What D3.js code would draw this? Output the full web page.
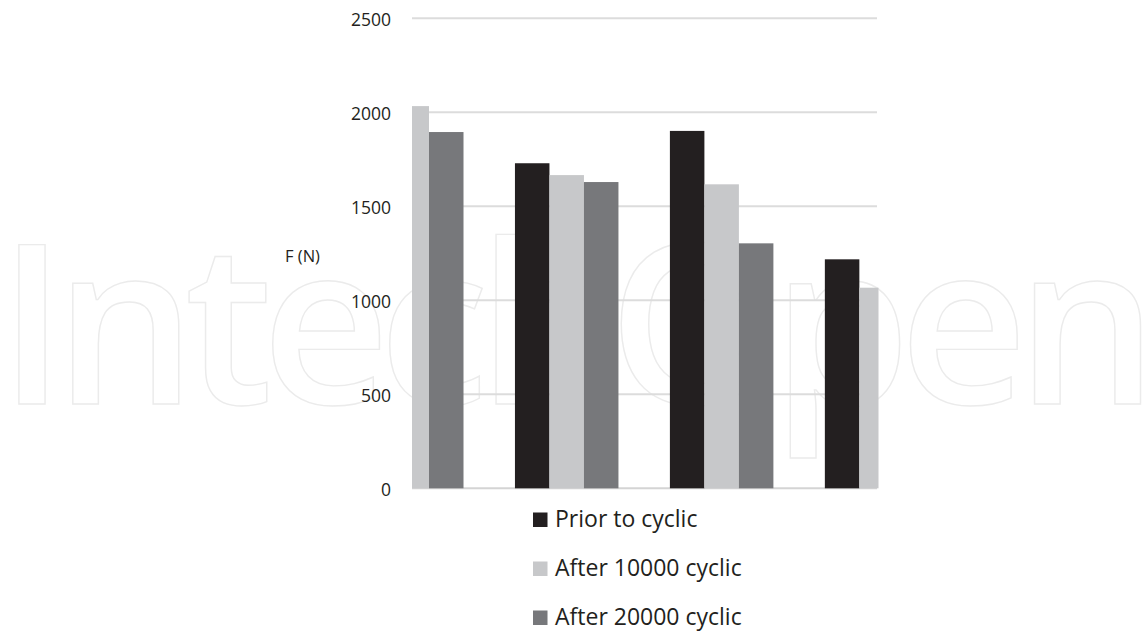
<!DOCTYPE html>
<html>
<head>
<meta charset="utf-8">
<script src="https://cdn.jsdelivr.net/npm/d3@7"></script>
<style>
  html, body { margin: 0; padding: 0; background: #ffffff; }
  svg { display: block; }
  text { font-family: "Open Sans", sans-serif; fill: #231f20; }
</style>
</head>
<body>
<svg id="chart" width="1145" height="633"></svg>
<script>
'use strict'

/****** DATA ******/

// four specimen groups, the picture is cropped so the outer bars are cut off
const groups = ['G1', 'G2', 'G3', 'G4']
const seriesNames = ['Prior to cyclic', 'After 10000 cyclic', 'After 20000 cyclic']
const seriesColors = ['#231f20', '#c7c8ca', '#77787b']

// null = bar lies outside the cropped picture
const priorToCyclic = [null, 1729, 1901, 1218]
const after10000 = [2033, 1666, 1617, 1067]
const after20000 = [1895, 1629, 1303, null]

const yTicks = [0, 500, 1000, 1500, 2000, 2500]
const yLabel = 'F (N)'
const watermark = 'IntechOpen'

/****** LAYOUT ******/

const plot = { left: 412, right: 877, top: 18.3, bottom: 488.3 }
const groupWidth = 103.5

const svg = d3.select('#chart')

const x0 = d3.scalePoint()
  .domain(groups)
  .range([411.75, 876.6])

const x1 = d3.scaleBand()
  .domain(seriesNames)
  .range([-groupWidth / 2, groupWidth / 2])

const y = d3.scaleLinear()
  .domain([0, 2500])
  .range([plot.bottom, plot.top])

const rows = groups.map((g, i) => ({
  group: g,
  values: [priorToCyclic[i], after10000[i], after20000[i]]
}))

// WATERMARK (behind everything)
svg.append('text')
  .attr('x', -2)
  .attr('y', 404)
  .attr('textLength', 1160)
  .attr('lengthAdjust', 'spacing')
  .style('font-family', '"Open Sans", sans-serif')
  .style('font-size', '223px')
  .style('font-weight', 600)
  .style('fill', '#ffffff')
  .style('stroke', '#ebebeb')
  .style('stroke-width', 1.4)
  .text(watermark)

// GRIDLINES
svg.append('g')
  .selectAll('line')
  .data(yTicks)
  .join('line')
    .attr('x1', plot.left)
    .attr('x2', plot.right)
    .attr('y1', d => y(d))
    .attr('y2', d => y(d))
    .attr('stroke', d => d === 0 ? '#d4d4d4' : '#dcdcdc')
    .attr('stroke-width', 2)

// Y AXIS LABELS
const yAxis = svg.append('g')
  .attr('transform', 'translate(391,0)')
  .call(d3.axisLeft(y).tickValues(yTicks).tickFormat(d3.format('d')).tickSize(0).tickPadding(0))
yAxis.select('.domain').remove()
yAxis.selectAll('text')
  .style('font-family', '"Open Sans", sans-serif')
  .style('font-size', '17.5px')
  .attr('fill', '#231f20')
  .attr('dy', '0.42em')

svg.append('text')
  .attr('x', 285)
  .attr('y', 262)
  .style('font-size', '16.5px')
  .text(yLabel)

// BARS (clipped to the cropped plot)
svg.append('clipPath')
  .attr('id', 'plot-clip')
  .append('rect')
    .attr('x', plot.left)
    .attr('y', 0)
    .attr('width', plot.right + 1.5 - plot.left)
    .attr('height', 633)

const bars = svg.append('g')
  .attr('clip-path', 'url(#plot-clip)')

bars.selectAll('g')
  .data(rows)
  .join('g')
    .attr('transform', d => `translate(${x0(d.group)},0)`)
  .selectAll('rect')
  .data(d => d.values.map((v, i) => ({ v: v, s: seriesNames[i], c: seriesColors[i] })).filter(d => d.v !== null))
  .join('rect')
    .attr('x', d => x1(d.s))
    .attr('width', x1.bandwidth())
    .attr('y', d => y(d.v))
    .attr('height', d => y(0) - y(d.v))
    .attr('fill', d => d.c)

// LEGEND
const legend = svg.append('g')
  .selectAll('g')
  .data(seriesNames)
  .join('g')
    .attr('transform', (d, i) => `translate(533,${527 + i * 49})`)

legend.append('rect')
  .attr('x', 0)
  .attr('y', -14.5)
  .attr('width', 14.5)
  .attr('height', 14.5)
  .attr('fill', (d, i) => seriesColors[i])

legend.append('text')
  .attr('x', 22)
  .attr('y', 0)
  .style('font-size', '23px')
  .text(d => d)
</script>
</body>
</html>
